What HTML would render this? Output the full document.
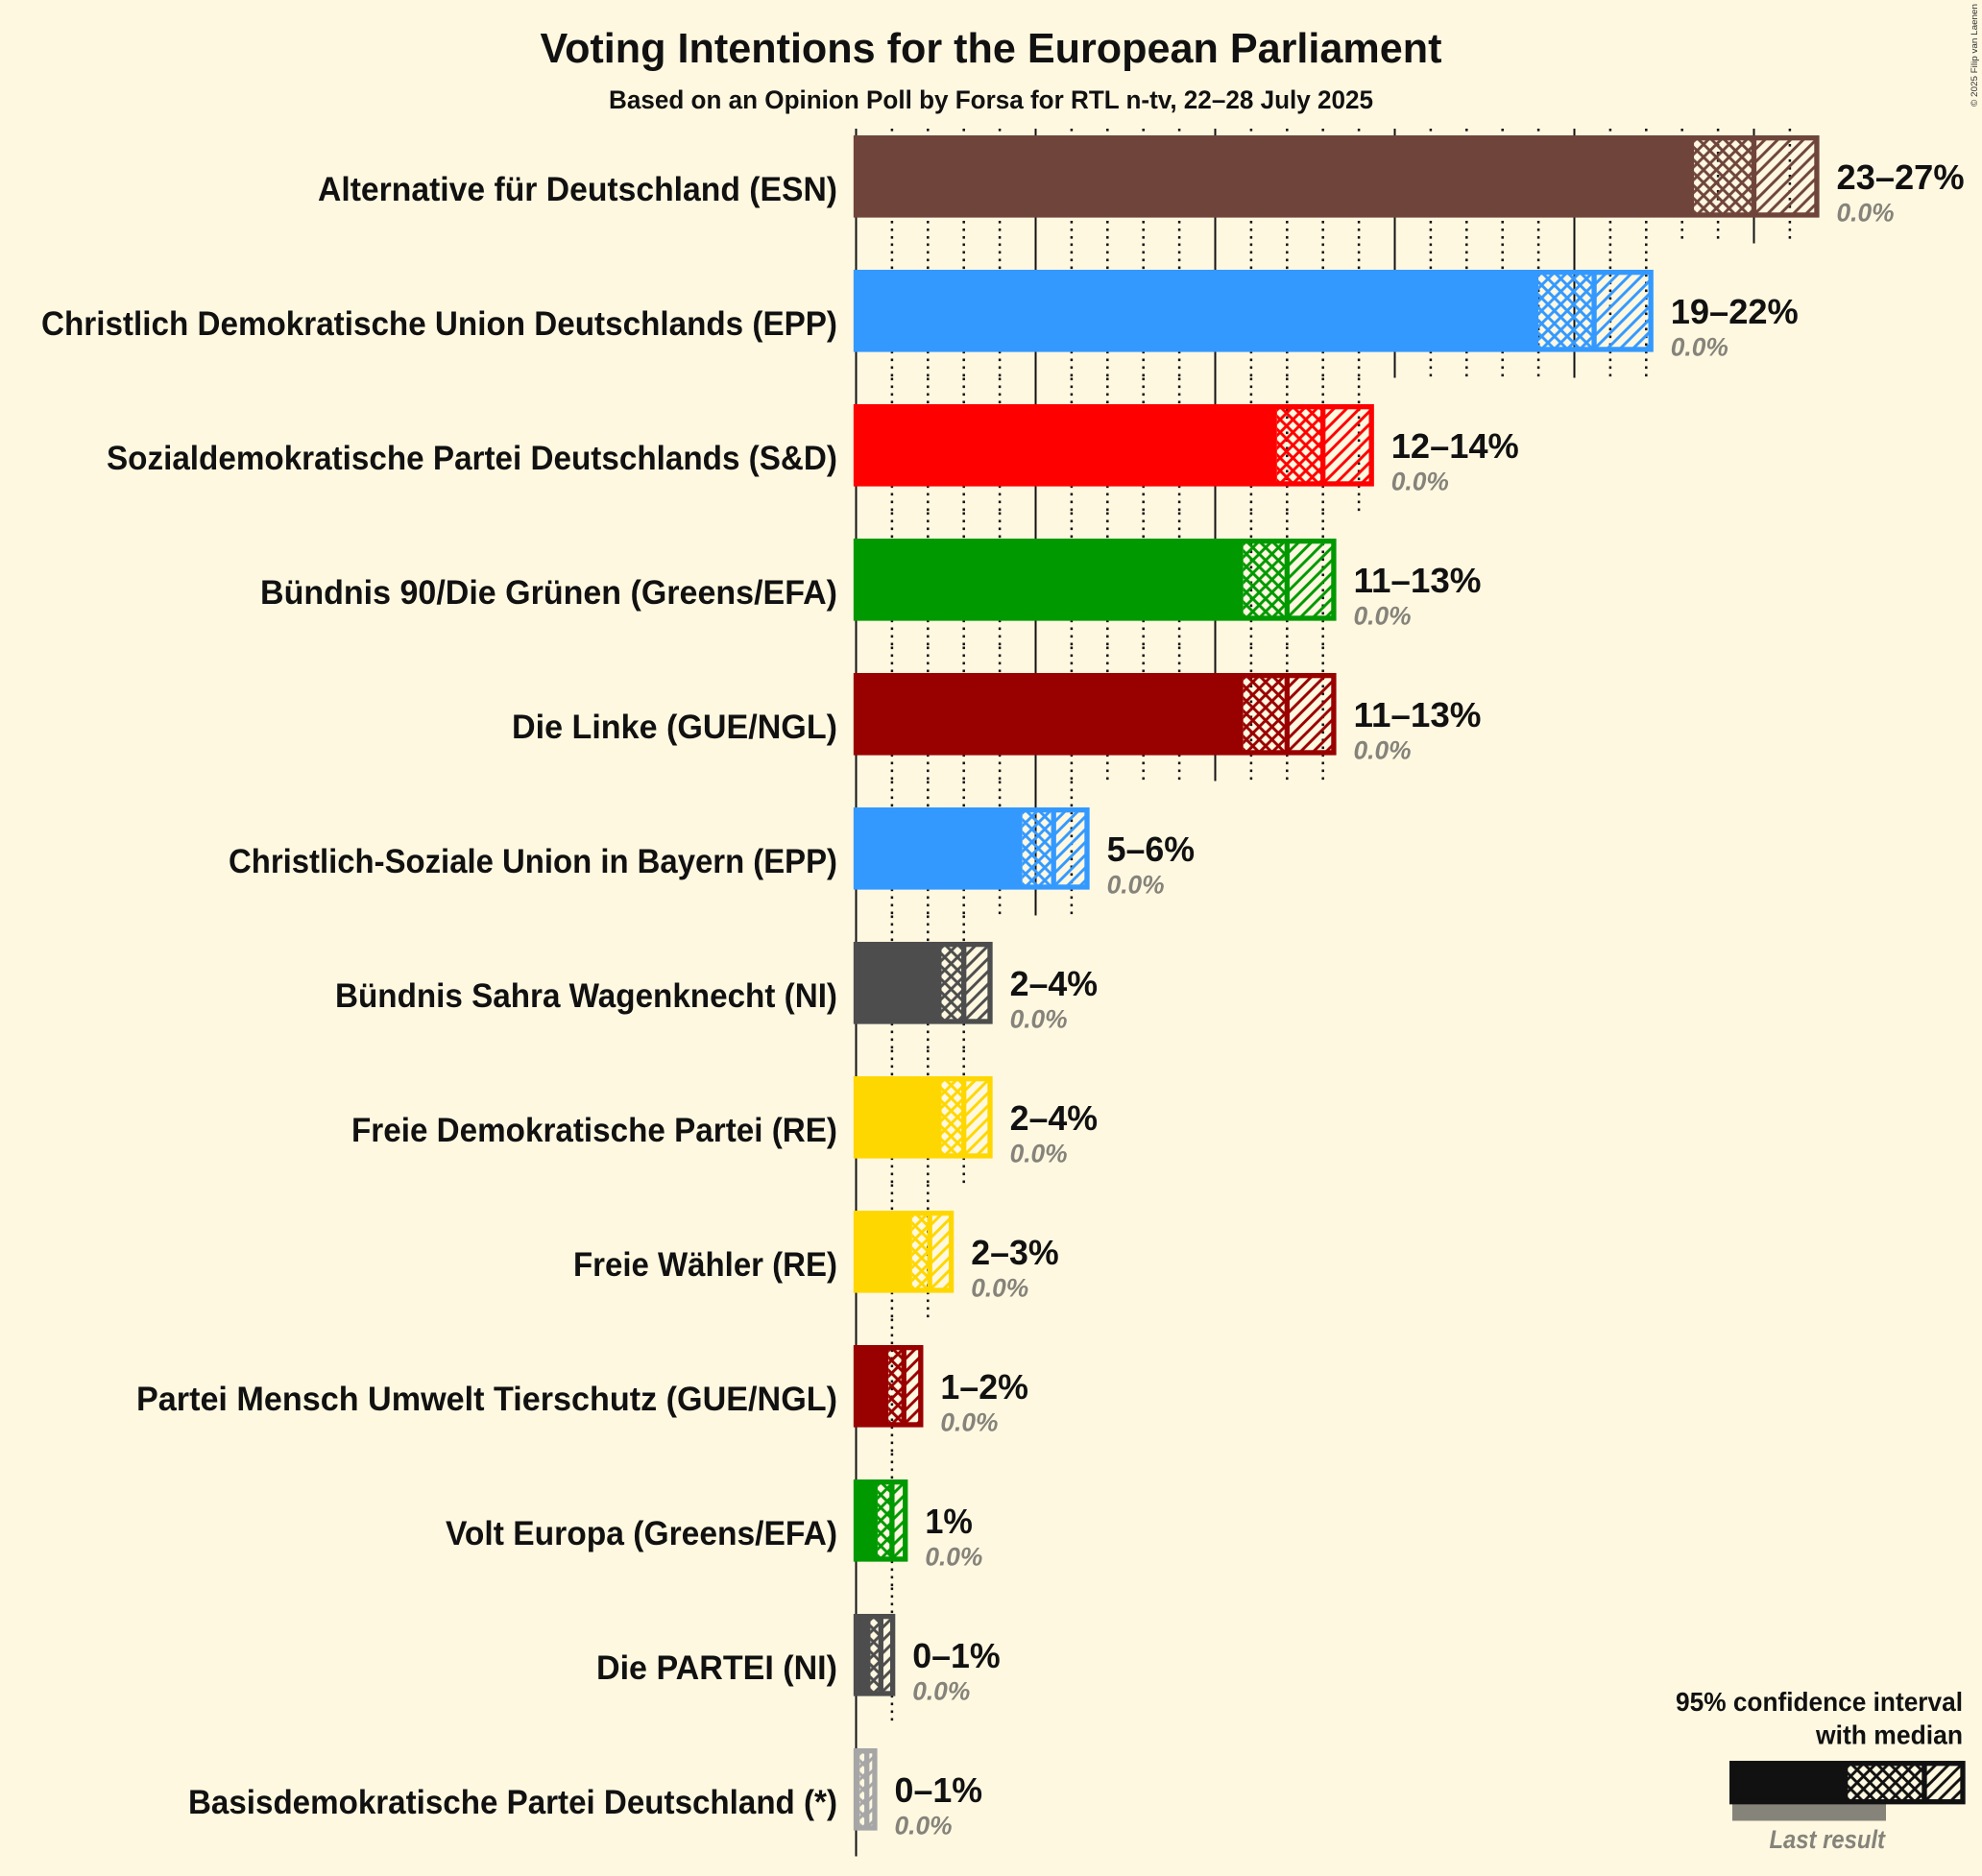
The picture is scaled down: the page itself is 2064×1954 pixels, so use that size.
<!DOCTYPE html>
<html lang="en">
<head>
<meta charset="utf-8">
<title>Voting Intentions for the European Parliament</title>
<style>
html,body{margin:0;padding:0;background:#FFF8E1;}
svg{display:block;font-family:"Liberation Sans",sans-serif;}
</style>
</head>
<body>
<svg id="chart" xmlns="http://www.w3.org/2000/svg" width="2064" height="1954" viewBox="0 0 2064 1954">
  <rect x="0" y="0" width="2064" height="1954" fill="#FFF8E1"/>
  <defs id="defs">
    <pattern id="legend-cross" patternUnits="userSpaceOnUse" width="13.33" height="13.33" patternTransform="translate(1927.3 1836.7)">
      <path d="M0 0L13.33 13.33M0 13.33L13.33 0" stroke="#111111" stroke-width="2.9" fill="none"/>
    </pattern>
    <pattern id="legend-diag" patternUnits="userSpaceOnUse" width="13.33" height="13.33" patternTransform="translate(2004 1836.7)">
      <path d="M-3.33 3.33L3.33 -3.33M0 13.33L13.33 0M10 16.67L16.67 10" stroke="#111111" stroke-width="2.9" fill="none"/>
    </pattern>
  </defs>
  <text x="562.5" y="65" font-size="44" font-weight="700" fill="#111111" textLength="939" lengthAdjust="spacingAndGlyphs">Voting Intentions for the European Parliament</text>
  <text x="634" y="113" font-size="27" font-weight="700" fill="#111111" textLength="796" lengthAdjust="spacingAndGlyphs">Based on an Opinion Poll by Forsa for RTL n-tv, 22–28 July 2025</text>
  <text transform="translate(2059 111) rotate(-90)" font-size="9" fill="#333333" textLength="107" lengthAdjust="spacingAndGlyphs">© 2025 Filip van Laenen</text>
  <g id="grid"></g>
  <g id="bars"></g>
  <g id="labels"></g>
  <g>
    <text x="1745" y="1782" font-size="28" font-weight="700" fill="#111111" textLength="299" lengthAdjust="spacingAndGlyphs">95% confidence interval</text>
    <text x="1891" y="1816.5" font-size="28" font-weight="700" fill="#111111" textLength="153" lengthAdjust="spacingAndGlyphs">with median</text>
    <rect x="1804" y="1879" width="160" height="17.5" fill="#85837A"/>
    <rect x="1803.7" y="1836.7" width="120.6" height="40" fill="#111111"/>
    <rect x="1924" y="1836.7" width="80" height="40" fill="url(#legend-cross)"/>
    <rect x="2004" y="1836.7" width="40" height="40" fill="url(#legend-diag)"/>
    <rect x="1803.7" y="1836.7" width="240.3" height="40" fill="none" stroke="#111111" stroke-width="5.33"/>
    <line x1="2004" x2="2004" y1="1836.7" y2="1876.7" stroke="#111111" stroke-width="5.33"/>
    <text x="1842.5" y="1925" font-size="27" font-weight="700" font-style="italic" fill="#85837A" textLength="120.5" lengthAdjust="spacingAndGlyphs">Last result</text>
  </g>
</svg>
<script>
const parties = [
  "Alternative für Deutschland (ESN)",
  "Christlich Demokratische Union Deutschlands (EPP)",
  "Sozialdemokratische Partei Deutschlands (S&D)",
  "Bündnis 90/Die Grünen (Greens/EFA)",
  "Die Linke (GUE/NGL)",
  "Christlich-Soziale Union in Bayern (EPP)",
  "Bündnis Sahra Wagenknecht (NI)",
  "Freie Demokratische Partei (RE)",
  "Freie Wähler (RE)",
  "Partei Mensch Umwelt Tierschutz (GUE/NGL)",
  "Volt Europa (Greens/EFA)",
  "Die PARTEI (NI)",
  "Basisdemokratische Partei Deutschland (*)"
];
const slugs = ["afd","cdu","spd","greens","linke","csu","bsw","fdp","fw","tierschutz","volt","partei","basis"];
const lowValues    = [23.33, 19.0, 11.72, 10.78, 10.78, 4.63, 2.38, 2.38, 1.56, 0.9, 0.6, 0.4, 0.1];
const medianValues = [25.0, 20.55, 13.0, 12.0, 12.0, 5.5, 3.0, 3.0, 2.05, 1.33, 1.0, 0.69, 0.3];
const highValues   = [26.75, 22.13, 14.35, 13.3, 13.3, 6.43, 3.73, 3.73, 2.65, 1.8, 1.37, 1.02, 0.52];
const lastResults  = [0, 0, 0, 0, 0, 0, 0, 0, 0, 0, 0, 0, 0];
const rangeLabels  = ["23–27%","19–22%","12–14%","11–13%","11–13%","5–6%","2–4%","2–4%","2–3%","1–2%","1%","0–1%","0–1%"];
const lastLabels   = ["0.0%","0.0%","0.0%","0.0%","0.0%","0.0%","0.0%","0.0%","0.0%","0.0%","0.0%","0.0%","0.0%"];
const barColors = ["#6F453B","#3399FF","#FF0000","#009900","#990000","#3399FF","#4D4D4D","#FFD700","#FFD700","#990000","#009900","#4D4D4D","#A6A6A6"];
const labelLengths = [541,829,761,601,339,634,523,506,275,730,408,251,676];

const NS = "http://www.w3.org/2000/svg";
const xScale = v => 891.5 + v * 37.4;
const rowCenter = i => 183.8 + i * 140;
const BAR_H = 80.3, SW = 5.33, P = 13.33;

function make(tag, attrs, parent) {
  const el = document.createElementNS(NS, tag);
  for (const k in attrs) el.setAttribute(k, attrs[k]);
  parent.appendChild(el);
  return el;
}
const gridG = document.getElementById("grid");
const barsG = document.getElementById("bars");
const labelsG = document.getElementById("labels");
const defs = document.getElementById("defs");

parties.forEach((name, i) => {
  // gridlines
  const y1 = i === 0 ? 134 : 113.5 + i * 140;
  const y2 = 253.5 + i * 140;
  for (let t = 0; t <= Math.floor(highValues[i]); t++) {
    const major = t % 5 === 0;
    const ln = make("line", {x1:xScale(t), x2:xScale(t), y1:y1, y2:y2, stroke:"#111111", "stroke-width":major ? 2 : 2.5}, gridG);
    if (!major) ln.setAttribute("stroke-dasharray", "2.67 5.33");
    
    
  }

  const color = barColors[i];
  const top = rowCenter(i) - BAR_H / 2;
  const xl = xScale(lowValues[i]), xm = xScale(medianValues[i]), xh = xScale(highValues[i]), x0 = xScale(0);

  // patterns
  const pc = make("pattern", {id:"cross-"+i, patternUnits:"userSpaceOnUse", width:P, height:P, patternTransform:"translate("+(xl+3.3)+" "+top+")"}, defs);
  make("path", {d:"M0 0L"+P+" "+P+"M0 "+P+"L"+P+" 0", stroke:color, "stroke-width":2.9, fill:"none"}, pc);
  const pd = make("pattern", {id:"diag-"+i, patternUnits:"userSpaceOnUse", width:P, height:P, patternTransform:"translate("+xm+" "+top+")"}, defs);
  make("path", {d:"M"+(-P/4)+" "+(P/4)+"L"+(P/4)+" "+(-P/4)+"M0 "+P+"L"+P+" 0M"+(P*0.75)+" "+(P*1.25)+"L"+(P*1.25)+" "+(P*0.75), stroke:color, "stroke-width":2.9, fill:"none"}, pd);

  const g = make("g", {}, barsG);
  
  

  const last = make("rect", {x:x0, y:top+BAR_H, width:Math.max(0, xScale(lastResults[i])-x0), height:17.5, fill:"#85837A"}, g);
  
  

  const solid = make("rect", {x:x0, y:top, width:Math.max(0, xl-x0), height:BAR_H, fill:color}, g);
  
  

  const cross = make("rect", {x:xl, y:top, width:Math.max(0, xm-xl), height:BAR_H, fill:"url(#cross-"+i+")"}, g);
  
  

  const diag = make("rect", {x:xm, y:top, width:Math.max(0, xh-xm), height:BAR_H, fill:"url(#diag-"+i+")"}, g);
  
  

  const outline = make("rect", {x:x0, y:top, width:xh-x0, height:BAR_H, fill:"none", stroke:color, "stroke-width":SW}, g);
  
  

  const med = make("line", {x1:xm, x2:xm, y1:top, y2:top+BAR_H, stroke:color, "stroke-width":SW}, g);
  
  

  // labels
  const cy = rowCenter(i);
  const tName = make("text", {x:872, y:cy+25.3, "text-anchor":"end", "font-size":35, "font-weight":700, fill:"#111111", textLength:labelLengths[i], lengthAdjust:"spacingAndGlyphs"}, labelsG);
  tName.textContent = name;
  
  

  const lx = xh + 20.6;
  const rl = rangeLabels[i].length;
  const rw = rl >= 6 ? 133 : rl >= 4 ? 91.5 : 49.5;
  const tRange = make("text", {x:lx, y:cy+13.2, "font-size":36, "font-weight":700, fill:"#111111", textLength:rw, lengthAdjust:"spacingAndGlyphs"}, labelsG);
  tRange.textContent = rangeLabels[i];
  
  

  const tLast = make("text", {x:lx, y:cy+46.8, "font-size":27, "font-weight":700, "font-style":"italic", fill:"#85837A", textLength:60, lengthAdjust:"spacingAndGlyphs"}, labelsG);
  tLast.textContent = lastLabels[i];
  
  
});
</script>
</body>
</html>
